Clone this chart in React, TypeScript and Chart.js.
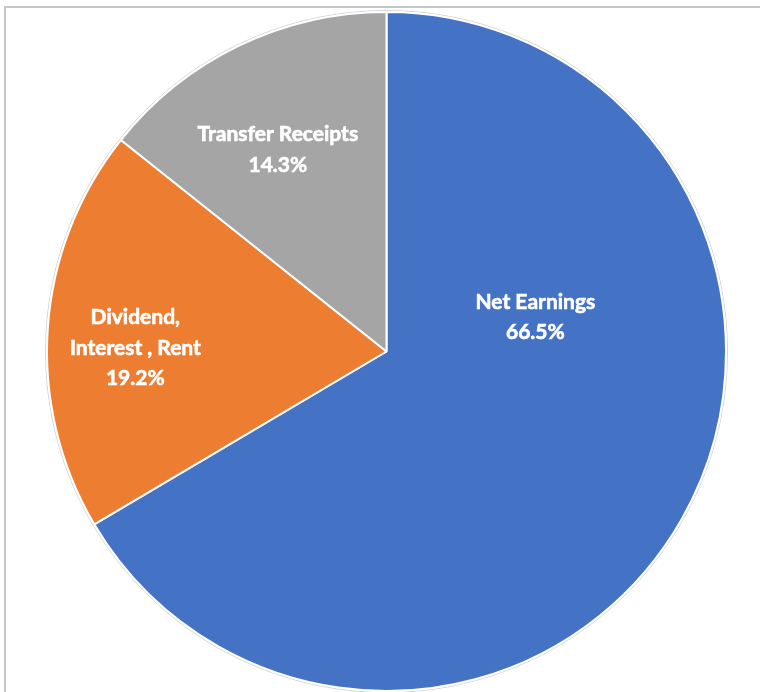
import React, { useEffect, useRef } from "react";
import { Chart, registerables } from "chart.js";

Chart.register(...registerables);

const categories = ["Net Earnings", "Dividend, Interest , Rent", "Transfer Receipts"];
const labelLines = [["Net Earnings"], ["Dividend,", "Interest , Rent"], ["Transfer Receipts"]];
const values = [66.5, 19.2, 14.3];
const colors = ["#4472C4", "#ED7D31", "#A5A5A5"];
// label placement: angle (deg clockwise from top) and fraction of radius
const labelAngles = [77, 270.8, 331.7];
const labelRadii = [0.45, 0.74, 0.675];

const labelPlugin = {
  id: "pieLabels",
  beforeDatasetsDraw(chart: any) {
    const meta = chart.getDatasetMeta(0);
    const arc = meta.data[0];
    if (!arc) return;
    const ctx = chart.ctx;
    ctx.save();
    ctx.beginPath();
    ctx.arc(arc.x, arc.y, arc.outerRadius + 1.5, 0, Math.PI * 2);
    ctx.strokeStyle = "#D4D4D4";
    ctx.lineWidth = 1;
    ctx.stroke();
    ctx.restore();
  },
  afterDatasetsDraw(chart: any) {
    const meta = chart.getDatasetMeta(0);
    const ctx = chart.ctx;
    ctx.save();
    ctx.fillStyle = "#FFFFFF";
    ctx.strokeStyle = "#FFFFFF";
    ctx.lineWidth = 0.6;
    ctx.font = "bold 21px Lato";
    ctx.textAlign = "center";
    ctx.textBaseline = "middle";
    meta.data.forEach((arc: any, i: number) => {
      const a = (labelAngles[i] * Math.PI) / 180;
      const r = arc.outerRadius * labelRadii[i];
      const cx = arc.x + r * Math.sin(a);
      const cy = arc.y - r * Math.cos(a);
      const lines = [...labelLines[i], values[i].toFixed(1) + "%"];
      const lh = 30.5;
      const start = cy - ((lines.length - 1) * lh) / 2;
      lines.forEach((t, j) => {
        ctx.fillText(t, cx, start + j * lh);
        ctx.strokeText(t, cx, start + j * lh);
      });
    });
    ctx.restore();
  },
};

export default function App() {
  const ref = useRef<HTMLCanvasElement>(null);
  useEffect(() => {
    document.body.style.margin = "0";
    const chart = new Chart(ref.current!, {
      type: "pie",
      data: {
        labels: categories,
        datasets: [
          {
            data: values,
            backgroundColor: colors,
            borderColor: "#FFFFFF",
            borderWidth: 2,
          },
        ],
      },
      options: {
        responsive: false,
        animation: false,
        layout: { padding: { left: 46, right: 33, top: 11, bottom: 0 } },
        plugins: {
          legend: { display: false },
          tooltip: { enabled: false },
        },
      },
      plugins: [labelPlugin],
    });
    return () => chart.destroy();
  }, []);
  return (
    <div style={{ position: "relative", width: 760, height: 692, overflow: "hidden", background: "#FFFFFF" }}>
      <div
        style={{
          position: "absolute",
          left: 4,
          top: 6,
          width: 800,
          height: 800,
          border: "2px solid #C3C6CC",
          boxSizing: "border-box",
        }}
      />
      <canvas ref={ref} width={760} height={692} style={{ position: "absolute", left: 0, top: 0 }} />
    </div>
  );
}
